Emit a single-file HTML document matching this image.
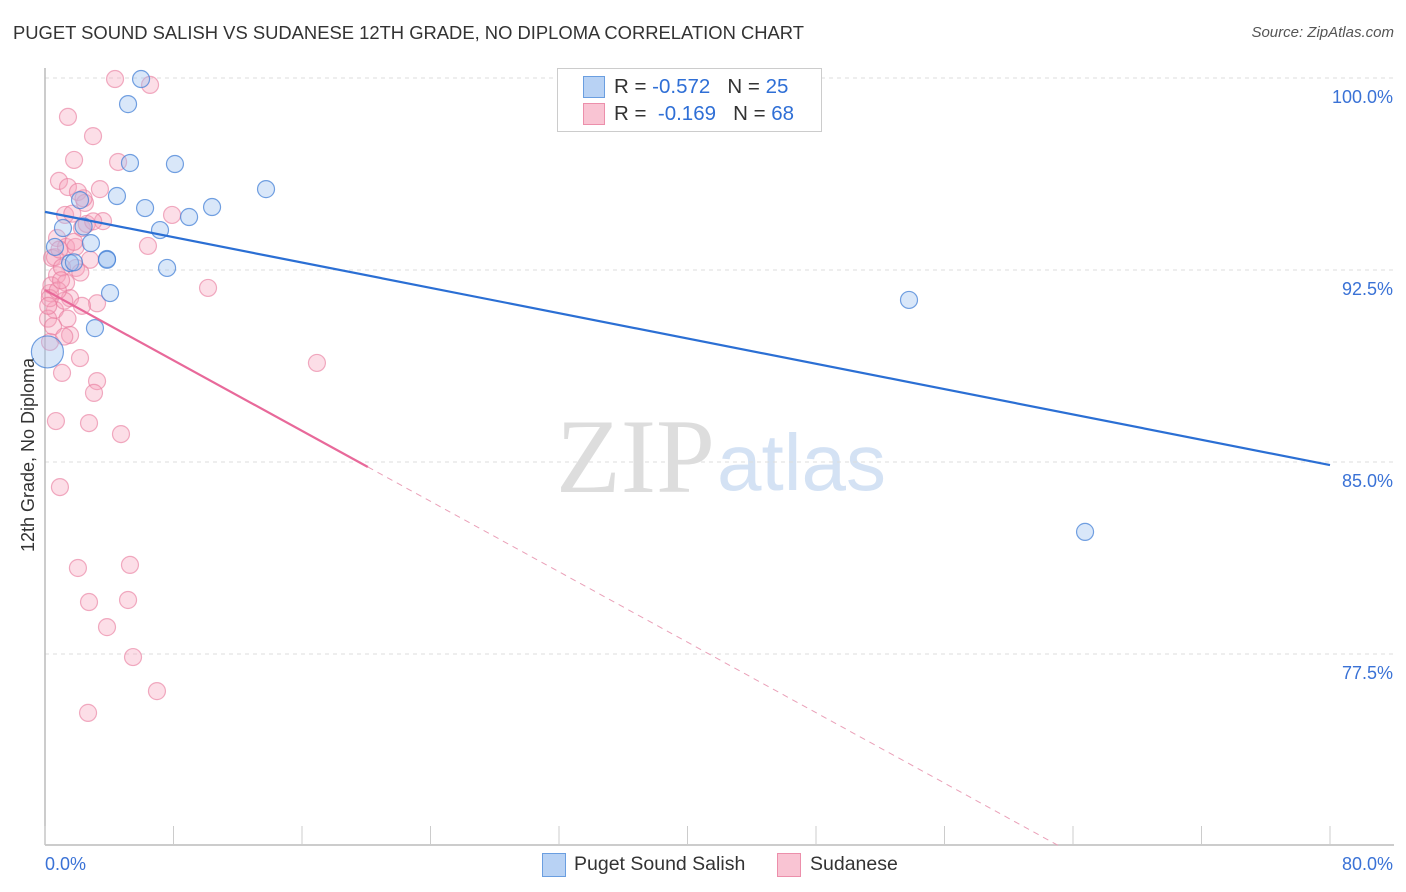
<!DOCTYPE html>
<html><head><meta charset="utf-8"><style>
body{margin:0;background:#fff;font-family:"Liberation Sans",sans-serif;}
#wrap{position:relative;width:1406px;height:892px;overflow:hidden;}
.t{position:absolute;white-space:nowrap;}
</style></head><body>
<div id="wrap">
<div class="t" style="left:13px;top:22px;font-size:18.4px;color:#333;">PUGET SOUND SALISH VS SUDANESE 12TH GRADE, NO DIPLOMA CORRELATION CHART</div>
<div class="t" style="right:12px;top:24px;font-size:15px;color:#555;font-style:italic;">Source: ZipAtlas.com</div>
<svg id="svg" width="1406" height="892" style="position:absolute;left:0;top:0">
<text x="715" y="492" font-size="106" font-family="Liberation Serif" fill="#ddd" text-anchor="end">ZIP</text>
<text x="717" y="490" font-size="80" font-family="Liberation Sans" fill="#d4e2f4">atlas</text>
<text transform="translate(34,455) rotate(-90)" font-size="18" fill="#333" text-anchor="middle">12th Grade, No Diploma</text>
</svg>
<div style="position:absolute;left:557px;top:68px;width:263px;height:62px;border:1px solid #ccc;background:#fff;">
<div style="position:absolute;left:25px;top:7px;width:20px;height:20px;background:#b8d2f4;border:1px solid #6a9ee0;"></div>
<div class="t" style="left:56px;top:6px;font-size:20.5px;color:#333;">R = <span style="color:#2f6fd6">-0.572</span> &nbsp; N = <span style="color:#2f6fd6">25</span></div>
<div style="position:absolute;left:25px;top:34px;width:20px;height:20px;background:#f9c4d3;border:1px solid #ec8fab;"></div>
<div class="t" style="left:56px;top:33px;font-size:20.5px;color:#333;">R = &nbsp;<span style="color:#2f6fd6">-0.169</span> &nbsp; N = <span style="color:#2f6fd6">68</span></div>
</div>
<div style="position:absolute;left:542px;top:853px;width:22px;height:22px;background:#b8d2f4;border:1px solid #6a9ee0;"></div>
<div class="t" style="left:574px;top:853px;font-size:19.5px;color:#333;">Puget Sound Salish</div>
<div style="position:absolute;left:777px;top:853px;width:22px;height:22px;background:#f9c4d3;border:1px solid #ec8fab;"></div>
<div class="t" style="left:810px;top:853px;font-size:19.5px;color:#333;">Sudanese</div>
</div>
<script>
const xTicks=[0,10,20,30,40,50,60,70,80];
const yTicks=[100,92.5,85,77.5];
const yTickLabels=["100.0%","92.5%","85.0%","77.5%"];
const xEndLabels=["0.0%","80.0%"];
const salishX=[5.98,5.17,5.29,8.09,4.48,13.76,6.23,10.40,8.97,2.18,7.16,1.12,2.86,0.62,3.86,1.56,7.60,4.05,3.11,53.79,64.75,2.4,1.8,3.86,0.15];
const salishY=[99.96,98.98,96.68,96.64,95.39,95.66,94.92,94.96,94.57,95.23,94.06,94.14,93.55,93.40,92.93,92.77,92.58,91.60,90.23,91.33,82.27,94.2,92.8,92.9,89.3];
const sudX=[4.36,6.54,1.43,2.99,1.81,4.55,0.87,1.43,3.42,2.05,2.49,1.25,3.61,7.91,2.30,0.75,1.31,6.41,0.44,1.93,0.75,1.31,10.15,0.31,1.56,3.24,2.30,0.62,0.19,1.56,0.31,2.18,1.06,3.24,3.05,16.93,0.68,2.74,4.73,0.93,2.05,5.29,2.74,5.17,3.86,5.48,6.97,2.68,0.62,1.06,2.8,1.9,0.4,1.2,2.6,0.9,1.7,0.3,2.2,1.4,0.8,3.0,1.0,1.8,0.5,2.4,0.2,1.2];
const sudY=[99.96,99.73,98.48,97.73,96.8,96.72,95.98,95.74,95.66,95.55,95.12,94.65,94.41,94.65,94.14,93.75,93.40,93.44,92.97,92.58,92.30,92.0,91.8,91.6,91.4,91.2,91.1,90.94,90.6,89.96,89.69,89.06,88.48,88.16,87.70,88.87,86.6,86.52,86.09,84.02,80.86,80.98,79.53,79.61,78.55,77.38,76.05,75.20,93.0,92.6,92.9,93.4,91.9,91.3,94.3,93.3,94.7,91.4,92.4,90.6,91.7,94.4,92.1,93.6,90.3,95.3,91.1,89.9];
const salishLine=[94.77,84.88];
const sudLine=[91.72,-0.344];
const X0=45,X1=1330,Y0=78,PXPER=192/7.5;
const sx=v=>X0+(v/80)*(X1-X0);
const sy=v=>Y0+(100-v)*PXPER;
const svg=document.getElementById('svg');
const NS='http://www.w3.org/2000/svg';
function mk(tag,a){const e=document.createElementNS(NS,tag);for(const k in a)e.setAttribute(k,a[k]);svg.appendChild(e);return e;}
yTicks.forEach((v,i)=>{
 const g=mk('line',{x1:45,x2:1394,y1:sy(v),y2:sy(v),stroke:'#ddd','stroke-dasharray':'4,4'});
 
 
 const t=mk('text',{x:1393,y:sy(v)+25,'font-size':18,fill:'#3a72d6','text-anchor':'end'});
 t.textContent=yTickLabels[i];
 
 
});
const ax=mk('line',{x1:45,x2:1394,y1:845,y2:845,stroke:'#bbb','stroke-width':1.5});


const ay=mk('line',{x1:45,x2:45,y1:68,y2:845,stroke:'#bbb','stroke-width':1.5});


for(let v=0;v<=80;v+=8){
 const tk=mk('line',{x1:sx(v),x2:sx(v),y1:826,y2:845,stroke:'#ccc'});
 
 
}
[[0,'start'],[80,'end']].forEach((p,i)=>{
 const t=mk('text',{x:i?1393:45,y:870,'font-size':18,fill:'#3a72d6','text-anchor':p[1]});
 t.textContent=xEndLabels[i];
 
 
});
sudX.forEach((x,i)=>{
 const c=mk('circle',{cx:sx(x),cy:sy(sudY[i]),r:8.5,fill:'rgba(246,160,185,0.35)',stroke:'rgba(232,120,155,0.6)','stroke-width':1.2});
 
 
});
salishX.forEach((x,i)=>{
 const big=i===salishX.length-1;
 const c=mk('circle',{cx:sx(x),cy:sy(salishY[i]),r:big?16:8.5,fill:'rgba(160,195,240,0.4)',stroke:'rgba(70,130,215,0.75)','stroke-width':1.2});
 
 
});
const bl=mk('line',{x1:sx(0),y1:sy(salishLine[0]),x2:sx(80),y2:sy(salishLine[1]),stroke:'#2b6fd4','stroke-width':2.2});


const sxEnd=20.1,dEnd=(sudLine[0]-70)/(-sudLine[1]);
const pl=mk('line',{x1:sx(0),y1:sy(sudLine[0]),x2:sx(sxEnd),y2:sy(sudLine[0]+sudLine[1]*sxEnd),stroke:'#e8699a','stroke-width':2.2});


const pd=mk('line',{x1:sx(sxEnd),y1:sy(sudLine[0]+sudLine[1]*sxEnd),x2:sx(dEnd),y2:sy(70),stroke:'#eaa0b8','stroke-width':1,'stroke-dasharray':'6,5'});


</script>
</body></html>
